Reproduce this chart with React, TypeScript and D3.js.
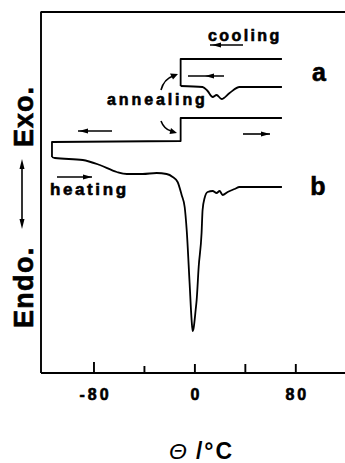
import * as d3 from "d3"

// temperature (°C) vs. heat flow (arbitrary units, exo up)
const xTicks = [-80, -40, 0, 40, 80]
const xTickLabels = [
  { t: -80, label: "-80" },
  { t: 0, label: "0" },
  { t: 80, label: "80" },
]

// curve a: cooling step, then heating after annealing
const aCoolT = [69, -11.3, -11.3]
const aCoolV = [31.4, 31.4, 28.7]
const aHeatT = [-11.3, 6.1, 10.1, 14.1, 17.2, 21.2, 27.5, 35.4, 69]
const aHeatV = [28.7, 28.6, 28.2, 27.6, 27.8, 27.4, 28.0, 28.6, 28.6]

// curve b: cooling steps, then heating scan with melting peak
const bCoolT = [69, -11.3, -11.3, -113.3, -113.3]
const bCoolV = [25.5, 25.5, 23.2, 23.1, 21.6]
const bHeatT = [-113.3, -111, -88.9, -75.4, -61.9, -54, -41.4, -30.3, -22.4, -17.6, -13.7, -10.5, -8.1, -6.5, -4.2, -2.6, -1.8, -1.0, 0.6, 1.4, 3.0, 5.3, 6.1, 7.7, 10.1, 14.1, 17.2, 19.6, 22.0, 26.0, 31.5, 35.4, 69]
const bHeatV = [21.6, 21.5, 21.3, 20.8, 20.1, 19.9, 19.9, 20.0, 19.9, 19.6, 19.1, 17.8, 16.6, 14.3, 9.0, 5.3, 4.2, 4.5, 6.3, 7.3, 10.6, 14.0, 16.3, 17.5, 18.1, 18.2, 18.0, 18.2, 17.8, 18.1, 18.4, 18.6, 18.6]

const W = 345
const H = 463
const font = "'Liberation Sans', Arial, Helvetica, sans-serif"

const zip = (ts: number[], vs: number[]) => ts.map((t, i) => [t, vs[i]] as [number, number])

function Arrow({ x1, x2, y, head }: { x1: number; x2: number; y: number; head: number }) {
  // horizontal arrow, head tip at x = head
  const dir = x2 > x1 ? 1 : -1
  const tip = head
  return (
    <g>
      <line x1={x1} x2={x2} y1={y} y2={y} stroke="#000" strokeWidth={1.6} />
      <path d={`M${tip},${y} L${tip - dir * 9},${y - 2.6} L${tip - dir * 9},${y + 2.6} Z`} fill="#000" />
    </g>
  )
}

export default function App() {
  const x = d3.scaleLinear().domain([-122, 119]).range([41, 345])
  const y = d3.scaleLinear().domain([0, 36.1]).range([373, 12])

  const stepLine = d3.line<[number, number]>().x(d => x(d[0])).y(d => y(d[1])).curve(d3.curveLinear)
  const smoothLine = d3.line<[number, number]>().x(d => x(d[0])).y(d => y(d[1])).curve(d3.curveMonotoneX)

  // heavy bold lettering like the original print
  const bold = { fontFamily: font, fontWeight: 700 as const, stroke: "#000", strokeWidth: 0.6 }

  return (
    <svg width={W} height={H} style={{ position: "absolute", left: 0, top: 0, background: "#fff" }}>
      {/* frame */}
      <g stroke="#000" strokeWidth={1.9} fill="none">
        <line x1={41} x2={41} y1={11.5} y2={373} />
        <line x1={41} x2={345} y1={12} y2={12} />
        <line x1={41} x2={345} y1={373} y2={373} />
      </g>

      {/* ticks */}
      <g stroke="#000" strokeWidth={1.9}>
        {xTicks.map(t => (
          <line key={t} x1={x(t)} x2={x(t)} y1={373} y2={t === -80 ? 362 : t === -40 ? 366 : 364} />
        ))}
      </g>
      <g {...bold} fontSize={16} letterSpacing={3} textAnchor="middle">
        {xTickLabels.map(d => (
          <text key={d.t} x={x(d.t) + 1.5} y={400}>{d.label}</text>
        ))}
      </g>

      {/* curves */}
      <g stroke="#000" strokeWidth={1.8} fill="none" strokeLinejoin="round">
        <path d={stepLine(zip(aCoolT, aCoolV)) || ""} />
        <path d={smoothLine(zip(aHeatT, aHeatV)) || ""} />
        <path d={stepLine(zip(bCoolT, bCoolV)) || ""} />
        <path d={smoothLine(zip(bHeatT, bHeatV)) || ""} />
      </g>

      {/* annotations */}
      <text x={208} y={41} {...bold} fontSize={16} letterSpacing={2.4}>cooling</text>
      <Arrow x1={243} x2={210} y={45} head={212} />
      <Arrow x1={224} x2={188} y={76} head={205} />
      <Arrow x1={112} x2={78} y={131} head={79} />
      <Arrow x1={243} x2={270} y={134} head={270} />
      <text x={107} y={105} {...bold} fontSize={16} letterSpacing={2.9}>annealing</text>
      <text x={50} y={195} {...bold} fontSize={17} letterSpacing={2.6}>heating</text>
      <Arrow x1={57} x2={92} y={177} head={92} />

      <g stroke="#000" strokeWidth={1.6} fill="none">
        <path d="M161,90 Q164,79 173,76" />
        <path d="M161,121 Q164,129 171,131" />
      </g>
      <path d="M178,74 L170,73.5 L173,79.5 Z" fill="#000" />
      <path d="M177,133 L171,128 L169.5,134 Z" fill="#000" />

      <text x={319} y={81} {...bold} fontSize={25} textAnchor="middle">a</text>
      <text x={318} y={195} {...bold} fontSize={25} textAnchor="middle">b</text>

      {/* y label */}
      <text transform="translate(33,147) rotate(-90)" {...bold} fontSize={27} letterSpacing={1}>Exo.</text>
      <text transform="translate(33,328) rotate(-90)" {...bold} fontSize={27} letterSpacing={1.3}>Endo.</text>
      <line x1={22} x2={22} y1={164} y2={224} stroke="#000" strokeWidth={1.6} />
      <path d="M22,159 L19.5,169 L24.5,169 Z" fill="#000" />
      <path d="M22,229 L19.5,219 L24.5,219 Z" fill="#000" />

      {/* x label */}
      <text x={169} y={459} fontFamily={font} fontSize={23}>
        <tspan fontStyle="italic">Θ</tspan>
        <tspan dx={9} fontWeight={700} letterSpacing={2}>/°C</tspan>
      </text>
    </svg>
  )
}
